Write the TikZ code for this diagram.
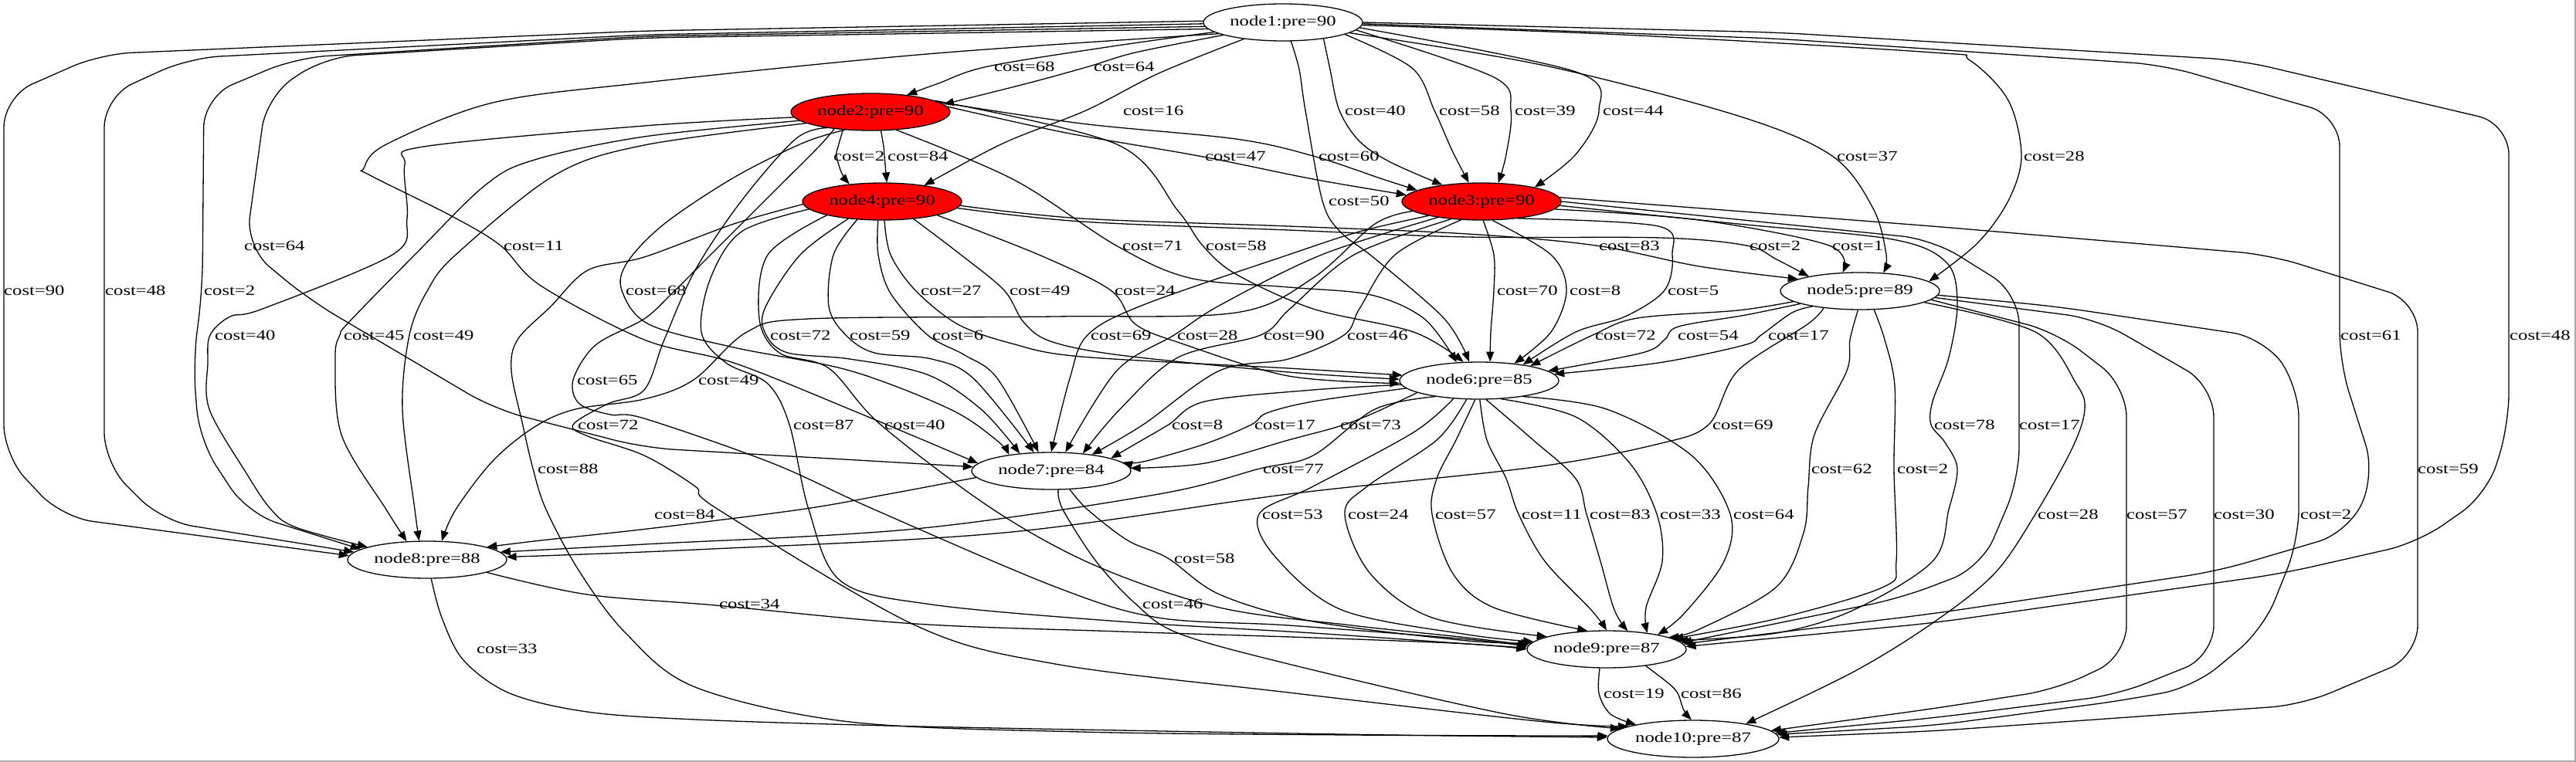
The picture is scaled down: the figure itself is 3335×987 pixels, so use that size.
\documentclass[tikz,border=0pt]{standalone}
\usepackage{fontspec}
\setmainfont{Liberation Serif}[FakeStretch=1.32]
\usetikzlibrary{shapes.geometric,arrows.meta}
\newcommand\gvfont{\fontsize{18.7pt}{22pt}\selectfont}
\tikzset{
 nd/.style={ellipse, draw, line width=1.3pt, minimum width=206pt, minimum height=48pt, inner sep=0pt, font=\gvfont},
 rn/.style={nd, fill=red},
 ed/.style={line width=1.3pt, -{Triangle[length=13pt,width=10pt]}},
 rc/.style={ed, rounded corners=40pt},
 lb/.style={anchor=west, inner sep=0pt, font=\gvfont},
 sm/.style={smooth, tension=0.55}
}
\begin{document}
\begin{tikzpicture}[x=1pt,y=-1pt]
\useasboundingbox (0,0) rectangle (3335,987);
\fill[white] (0,0) rectangle (3335,987);
\draw[line width=2pt, color={rgb,255:red,170;green,170;blue,170}] (3334,0) -- (3334,986) -- (0,986);
% nodes
\node[nd] (n1) at (1661,29) {node1:pre=90};
\node[rn] (n2) at (1127,145) {node2:pre=90};
\node[rn] (n3) at (1918,261) {node3:pre=90};
\node[rn] (n4) at (1142,261) {node4:pre=90};
\node[nd] (n5) at (2408,377) {node5:pre=89};
\node[nd] (n6) at (1915,493) {node6:pre=85};
\node[nd] (n7) at (1361,610) {node7:pre=84};
\node[nd] (n8) at (553,725) {node8:pre=88};
\node[nd] (n9) at (2080,841) {node9:pre=87};
\node[nd, minimum width=222pt] (n10) at (2192,957) {node10:pre=87};
% ---- edges from node1
\draw[ed] plot[sm] coordinates {(n1.188) (1440,60) (1279,86) (1215,108) (n2.25)};
\draw[ed] plot[sm] coordinates {(n1.192) (1470,68) (1410,86) (1330,108) (n2.6)};
\draw[ed] plot[sm] coordinates {(n1.203) (1500,95) (1406,143) (1300,185) (n4.21)};
\draw[ed] plot[sm] coordinates {(n1.338) (1722,90) (1734,143) (1760,183) (1800,210) (n3.157)};
\draw[ed] plot[sm] coordinates {(n1.349) (1828,88) (1857,143) (1880,195) (n3.124)};
\draw[ed] plot[sm] coordinates {(n1.354) (1934,100) (1956,143) (1950,200) (n3.48)};
\draw[ed] plot[sm] coordinates {(n1.356) (2040,93) (2070,143) (2040,200) (n3.15)};
\draw[ed] plot[sm] coordinates {(n1.351) (2000,85) (2250,150) (2372,202) (2425,270) (2442,330) (n5.38)};
\draw[ed] plot[sm] coordinates {(n1.358) (2100,45) (2502,68) (2550,78) (2600,130) (2617,202) (2600,260) (2560,315) (n5.8)};
\draw[rc] (n1.359) -- (2300,50) -- (2800,84) -- (3029,150) -- (3029,470) -- (3075,615) -- (3040,690) -- (2870,740) -- (2502,795) -- (n9.4);
\draw[rc] (n1.0) -- (2300,42) -- (2900,78) -- (3248,160) -- (3248,550) -- (3220,640) -- (3130,703) -- (2954,743) -- (2502,807) -- (n9.2.5);
\draw[ed] plot[sm] coordinates {(n1.293) (1682,90) (1690,143) (1712,260) (1735,300) (1780,335) (1870,413) (n6.118)};
\draw[rc] (n1.185) -- (834,49) -- (420,74) -- (345,125) -- (318,320) -- (400,388) -- (640,530) -- (834,580) -- (n7.177);
\draw[ed] plot[sm] coordinates {(n1.190) (1200,70) (834,107) (638,133) (500,187) (471,218) (479,227) (585,280) (648,318) (700,370) (834,440) (950,470) (1100,530) (n7.174)};
\draw[rc] (n1.179) -- (834,40) -- (130,70) -- (5,125) -- (5,590) -- (80,670) -- (n8.177);
\draw[rc] (n1.181) -- (834,45) -- (245,75) -- (135,125) -- (135,600) -- (210,675) -- (n8.174);
\draw[rc] (n1.183) -- (834,47) -- (383,75) -- (264,125) -- (262,376) -- (250,470) -- (258,570) -- (320,665) -- (n8.171);
% ---- edges from node2
\draw[ed] plot[sm] coordinates {(n2.213) (1085,190) (1083,202) (1090,225) (n4.152)};
\draw[ed] plot[sm] coordinates {(n2.299) (1144,190) (1145,202) (n4.76)};
\draw[ed] plot[sm] coordinates {(n2.4) (1380,172) (1552,202) (1700,232) (n3.175)};
\draw[ed] plot[sm] coordinates {(n2.8) (1400,160) (1600,180) (1700,202) (1790,232) (n3.170)};
\draw[ed] plot[sm] coordinates {(n2.325) (1313,233) (1445,318) (1540,360) (1668,372) (1775,382) (1844,413) (n6.141)};
\draw[ed] plot[sm] coordinates {(n2.10) (1446,187) (1525,273) (1557,318) (1600,355) (1700,400) (1830,430) (n6.130)};
\draw[ed] plot[sm] coordinates {(n2.215) (1040,185) (950,230) (860,290) (812,340) (805,376) (840,420) (950,450) (1100,480) (1230,530) (1290,570) (n7.159)};
\draw[ed] plot[sm] coordinates {(n2.184) (834,163) (548,190) (524,213) (527,283) (508,330) (340,400) (298,410) (272,434) (269,470) (271,530) (319,613) (351,660) (383,683) (n8.168)};
\draw[ed] plot[sm] coordinates {(n2.187) (834,177) (692,207) (628,240) (537,330) (452,417) (440,434) (434,463) (442,563) (500,660) (n8.138)};
\draw[ed] plot[sm] coordinates {(n2.190) (834,188) (718,227) (590,330) (553,377) (530,434) (521,530) (537,660) (n8.113)};
\draw[ed] plot[sm] coordinates {(n2.205) (1060,190) (1000,250) (920,330) (870,380) (834,413) (771,447) (742,492) (750,523) (790,537) (834,542) (1000,600) (1132,660) (1366,760) (1499,800) (1668,810) (1900,828) (n9.178)};
\draw[ed] plot[sm] coordinates {(n2.200) (1030,180) (960,260) (900,350) (860,440) (834,505) (787,523) (742,550) (761,565) (834,590) (900,630) (930,660) (1185,810) (1366,860) (1668,897) (2000,935) (n10.169)};
% ---- edges from node3
\draw[ed] plot[sm] coordinates {(n3.-6) (2200,285) (2368,318) (n5.133)};
\draw[ed] plot[sm] coordinates {(n3.275) (1934,330) (1934,376) (1930,430) (n6.60)};
\draw[ed] plot[sm] coordinates {(n3.300) (2008,330) (2028,376) (2008,430) (n6.26)};
\draw[ed] plot[sm] coordinates {(n3.335) (2147,293) (2165,330) (2155,376) (2104,410) (2040,430) (n6.20)};
\draw[ed] plot[sm] coordinates {(n3.195) (1760,300) (1668,330) (1480,395) (1408,434) (1385,490) (n7.90)};
\draw[ed] plot[sm] coordinates {(n3.200) (1711,330) (1580,395) (1520,434) (1446,480) (n7.53)};
\draw[ed] plot[sm] coordinates {(n3.210) (1753,330) (1670,400) (1632,434) (1525,463) (1450,530) (n7.29)};
\draw[ed] plot[sm] coordinates {(n3.222) (1806,330) (1760,400) (1740,434) (1668,465) (1579,480) (1480,550) (n7.22)};
\draw[ed] plot[sm] coordinates {(n3.188) (1780,290) (1700,360) (1600,405) (1366,410) (1047,413) (967,430) (898,492) (834,517) (745,530) (692,553) (638,597) (590,660) (n8.52)};
\draw[ed] plot[sm] coordinates {(n3.-3) (2250,290) (2450,310) (2520,340) (2534,393) (2523,463) (2502,520) (2500,550) (2518,573) (2534,607) (2523,660) (2502,727) (2400,790) (2300,820) (n9.7)};
\draw[rc] (n3.0) -- (2502,310) -- (2614,380) -- (2614,620) -- (2565,735) -- (2460,775) -- (n9.5.5);
\draw[rc] (n3.3) -- (2502,293) -- (2938,330) -- (3130,390) -- (3130,850) -- (2980,913) -- (2502,947) -- (n10.1.5);
% ---- edges from node4
\draw[ed] plot[sm] coordinates {(n4.357) (1400,283) (1668,293) (1900,303) (2066,318) (2200,345) (n5.169)};
\draw[ed] plot[sm] coordinates {(n4.355) (1400,287) (1668,298) (1900,307) (2150,308) (2261,318) (2300,336) (n5.164)};
\draw[ed] plot[sm] coordinates {(n4.277) (1153,330) (1185,376) (1240,420) (1310,445) (1400,462) (1668,477) (n6.176)};
\draw[ed] plot[sm] coordinates {(n4.331) (1244,330) (1300,376) (1325,417) (1360,442) (1450,460) (1668,482) (n6.179)};
\draw[ed] plot[sm] coordinates {(n4.346) (1345,330) (1438,376) (1470,420) (1530,445) (1668,487) (n6.182)};
\draw[ed] plot[sm] coordinates {(n4.207) (1036,330) (990,400) (992,434) (1020,457) (1100,465) (1200,485) (1270,530) (n7.151)};
\draw[ed] plot[sm] coordinates {(n4.216) (1079,330) (1073,397) (1095,434) (1132,457) (1206,465) (1260,490) (n7.133)};
\draw[ed] plot[sm] coordinates {(n4.258) (1137,330) (1153,380) (1201,434) (1249,460) (1291,490) (n7.124)};
\draw[ed] plot[sm] coordinates {(n4.186) (960,300) (920,360) (908,430) (940,470) (994,497) (1022,550) (1047,660) (1089,753) (1206,783) (1450,805) (1700,820) (1900,834) (n9.179)};
\draw[ed] plot[sm] coordinates {(n4.194) (994,330) (983,413) (1009,457) (1073,477) (1140,550) (1286,660) (1419,733) (1579,787) (1750,810) (1900,826) (n9.177)};
\draw[ed] plot[sm] coordinates {(n4.182) (950,290) (834,333) (761,350) (713,397) (670,440) (662,480) (676,547) (690,607) (707,660) (750,740) (810,820) (900,890) (1100,935) (1400,948) (1750,952) (n10.178)};
% ---- edges from node5
\draw[ed] plot[sm] coordinates {(n5.189) (2250,402) (2120,412) (2062,434) (n6.16)};
\draw[ed] plot[sm] coordinates {(n5.192) (2260,408) (2173,423) (2155,440) (2126,457) (n6.8)};
\draw[ed] plot[sm] coordinates {(n5.198) (2320,405) (2280,434) (2258,447) (2147,470) (n6.5)};
\draw[ed] plot[sm] coordinates {(n5.205) (2340,420) (2250,480) (2212,550) (2147,575) (1987,605) (1668,640) (1300,690) (900,712) (n8.2)};
\draw[ed] plot[sm] coordinates {(n5.264) (2395,440) (2391,480) (2349,563) (2341,630) (2335,690) (2300,760) (2200,815) (n9.11)};
\draw[ed] plot[sm] coordinates {(n5.307) (2440,440) (2453,500) (2452,607) (2455,727) (2439,760) (2306,800) (n9.9)};
\draw[ed] plot[sm] coordinates {(n5.350) (2635,430) (2688,497) (2699,530) (2683,580) (2635,666) (2582,743) (2502,807) (2400,870) (n10.16)};
\draw[rc] (n5.353) -- (2662,430) -- (2753,500) -- (2753,850) -- (2662,893) -- (2502,918) -- (n10.6);
\draw[rc] (n5.355) -- (2715,413) -- (2866,500) -- (2866,850) -- (2741,900) -- (2502,930) -- (n10.4.5);
\draw[rc] (n5.357) -- (2662,397) -- (2930,437) -- (2976,500) -- (2976,700) -- (2930,815) -- (2840,890) -- (2750,907) -- (2502,940) -- (n10.3);
% ---- edges from node6
\draw[ed] plot[sm] coordinates {(n6.183) (1700,505) (1560,520) (1513,550) (1470,575) (n7.12.6)};
\draw[ed] plot[sm] coordinates {(n6.186) (1700,520) (1640,535) (1620,550) (1560,575) (1480,598) (n7.7)};
\draw[ed] plot[sm] coordinates {(n6.191) (1774,537) (1731,553) (1668,570) (1560,600) (n7.2)};
\draw[ed] plot[sm] coordinates {(n6.200) (1780,530) (1700,590) (1631,607) (1500,640) (1185,685) (834,705) (n8.6)};
\draw[ed] plot[sm] coordinates {(n6.215) (1830,560) (1700,630) (1630,666) (1650,720) (1737,790) (1900,822) (n9.174)};
\draw[ed] plot[sm] coordinates {(n6.236) (1860,570) (1770,630) (1741,666) (1774,743) (1854,800) (n9.168)};
\draw[ed] plot[sm] coordinates {(n6.258) (1885,570) (1860,620) (1854,666) (1881,743) (1934,787) (n9.136)};
\draw[ed] plot[sm] coordinates {(n6.272) (1925,570) (1950,620) (1966,666) (2000,727) (2060,790) (n9.90)};
\draw[ed] plot[sm] coordinates {(n6.290) (1985,570) (2040,620) (2054,666) (2072,727) (2090,790) (n9.41)};
\draw[ed] plot[sm] coordinates {(n6.320) (2040,540) (2110,600) (2145,666) (2152,727) (2131,787) (n9.22)};
\draw[ed] plot[sm] coordinates {(n6.340) (2080,530) (2190,590) (2240,666) (2232,727) (2180,795) (n9.16)};
% ---- edges from node7
\draw[ed] plot[sm] coordinates {(n7.185) (1150,640) (1036,660) (838,685) (700,700) (n8.12)};
\draw[ed] plot[sm] coordinates {(n7.315) (1408,660) (1460,700) (1512,723) (1579,770) (1700,805) (1900,830) (n9.175.5)};
\draw[ed] plot[sm] coordinates {(n7.290) (1376,660) (1419,727) (1470,782) (1525,820) (1668,860) (1950,925) (n10.172)};
% ---- edges from node8
\draw[ed] plot[sm] coordinates {(n8.348) (760,770) (926,784) (1185,808) (1450,818) (1700,826) (1900,834) (n9.180.5)};
\draw[ed] plot[sm] coordinates {(n8.282) (572,800) (600,855) (660,898) (760,922) (900,932) (1150,940) (1450,946) (1800,952) (n10.179)};
% ---- edges from node9
\draw[ed] plot[sm] coordinates {(n9.250) (2070,898) (2085,925) (n10.166)};
\draw[ed] plot[sm] coordinates {(n9.337) (2160,885) (2172,898) (2180,920) (n10.95)};
% ---- labels
\node[lb] (l1) at (1287,86) {cost=68};
\node[lb] (l2) at (1416,86) {cost=64};
\node[lb] (l3) at (1454,143) {cost=16};
\node[lb] (l4) at (1741,143) {cost=40};
\node[lb] (l5) at (1863,143) {cost=58};
\node[lb] (l6) at (1961,143) {cost=39};
\node[lb] (l7) at (2075,143) {cost=44};
\node[lb] (l8) at (1079,202) {cost=2};
\node[lb] (l9) at (1149,202) {cost=84};
\node[lb] (l10) at (1560,202) {cost=47};
\node[lb] (l11) at (1707,202) {cost=60};
\node[lb] (l12) at (2378,202) {cost=37};
\node[lb] (l13) at (2620,202) {cost=28};
\node[lb] (l14) at (1720,260) {cost=50};
\node[lb] (l15) at (316,318) {cost=64};
\node[lb] (l16) at (652,318) {cost=11};
\node[lb] (l17) at (1453,318) {cost=71};
\node[lb] (l18) at (1561,318) {cost=58};
\node[lb] (l19) at (2070,318) {cost=83};
\node[lb] (l20) at (2265,318) {cost=2};
\node[lb] (l21) at (2372,318) {cost=1};
\node[lb] (l22) at (5,376) {cost=90};
\node[lb] (l23) at (136,376) {cost=48};
\node[lb] (l24) at (264,376) {cost=2};
\node[lb] (l25) at (810,376) {cost=68};
\node[lb] (l26) at (1192,376) {cost=27};
\node[lb] (l27) at (1307,376) {cost=49};
\node[lb] (l28) at (1443,376) {cost=24};
\node[lb] (l29) at (1938,376) {cost=70};
\node[lb] (l30) at (2032,376) {cost=8};
\node[lb] (l31) at (2159,376) {cost=5};
\node[lb] (l32) at (278,434) {cost=40};
\node[lb] (l33) at (445,434) {cost=45};
\node[lb] (l34) at (535,434) {cost=49};
\node[lb] (l35) at (997,434) {cost=72};
\node[lb] (l36) at (1100,434) {cost=59};
\node[lb] (l37) at (1207,434) {cost=6};
\node[lb] (l38) at (1412,434) {cost=69};
\node[lb] (l39) at (1524,434) {cost=28};
\node[lb] (l40) at (1636,434) {cost=90};
\node[lb] (l41) at (1744,434) {cost=46};
\node[lb] (l42) at (2065,434) {cost=72};
\node[lb] (l43) at (2172,434) {cost=54};
\node[lb] (l44) at (2289,434) {cost=17};
\node[lb] (l45) at (3030,434) {cost=61};
\node[lb] (l46) at (3249,434) {cost=48};
\node[lb] (l47) at (747,492) {cost=65};
\node[lb] (l48) at (904,492) {cost=49};
\node[lb] (l49) at (748,550) {cost=72};
\node[lb] (l50) at (1027,550) {cost=87};
\node[lb] (l51) at (1145,550) {cost=40};
\node[lb] (l52) at (1517,550) {cost=8};
\node[lb] (l53) at (1624,550) {cost=17};
\node[lb] (l54) at (1735,550) {cost=73};
\node[lb] (l55) at (2217,550) {cost=69};
\node[lb] (l56) at (2504,550) {cost=78};
\node[lb] (l57) at (2614,550) {cost=17};
\node[lb] (l58) at (696,607) {cost=88};
\node[lb] (l59) at (1635,607) {cost=77};
\node[lb] (l60) at (2345,607) {cost=62};
\node[lb] (l61) at (2456,607) {cost=2};
\node[lb] (l62) at (3130,607) {cost=59};
\node[lb] (l63) at (847,666) {cost=84};
\node[lb] (l64) at (1634,666) {cost=53};
\node[lb] (l65) at (1745,666) {cost=24};
\node[lb] (l66) at (1858,666) {cost=57};
\node[lb] (l67) at (1970,666) {cost=11};
\node[lb] (l68) at (2058,666) {cost=83};
\node[lb] (l69) at (2149,666) {cost=33};
\node[lb] (l70) at (2244,666) {cost=64};
\node[lb] (l71) at (2638,666) {cost=28};
\node[lb] (l72) at (2753,666) {cost=57};
\node[lb] (l73) at (2866,666) {cost=30};
\node[lb] (l74) at (2978,666) {cost=2};
\node[lb] (l75) at (1520,723) {cost=58};
\node[lb] (l76) at (931,782) {cost=34};
\node[lb] (l77) at (1479,782) {cost=46};
\node[lb] (l78) at (617,840) {cost=33};
\node[lb] (l79) at (2076,898) {cost=19};
\node[lb] (l80) at (2176,898) {cost=86};
\end{tikzpicture}
\end{document}
